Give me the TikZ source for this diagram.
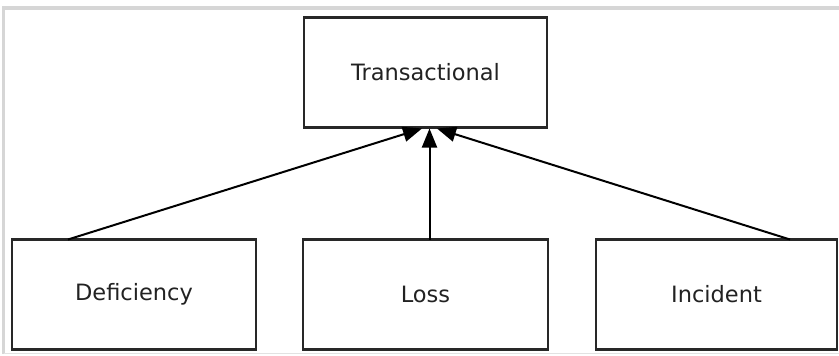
\documentclass[tikz,border=0pt]{standalone}
\usepackage{fontspec}
\setmainfont{DejaVu Sans}
\usetikzlibrary{arrows.meta}
\definecolor{frameg}{HTML}{D6D6D6}
\definecolor{boxline}{HTML}{282828}
\definecolor{txt}{HTML}{222222}
\begin{document}
\begin{tikzpicture}[x=1pt,y=-1pt,
  boxstyle/.style={draw=boxline, line width=2.4pt, fill=white, inner sep=0pt,
    minimum width=243pt, minimum height=110pt, text=txt,
    font=\fontsize{22.5}{27}\selectfont},
  link/.style={draw=black, line width=2pt, -{Triangle[length=19pt,width=15pt]}}]
\useasboundingbox (0,0) rectangle (839,356);
\fill[white] (0,0) rectangle (839,356);
\draw[frameg, line width=3.5pt] (3.5,353.5) -- (3.5,8) -- (839,8);
\draw[frameg!70, line width=1.5pt] (3.5,353.5) -- (839,353.5);
\node[boxstyle] (tr) at (425.5,72.5) {Transactional};
\node[boxstyle, minimum width=244pt] (de) at (134,294.5) {Deficiency};
\node[boxstyle, minimum width=245pt] (lo) at (425.5,294.5) {Loss};
\node[boxstyle, minimum width=241pt] (in) at (716.5,294.5) {Incident};
\coordinate (tl) at (422,128.5);
\coordinate (tc) at (429.5,128.5);
\coordinate (tri) at (437,128.5);
\coordinate (sd) at (68,239.5);
\coordinate (sl) at (429.5,239.5);
\coordinate (si) at (790,239.5);
\draw[link] (sd) -- (tl);
\draw[link] (sl) -- (tc);
\draw[link] (si) -- (tri);
\end{tikzpicture}
\end{document}
